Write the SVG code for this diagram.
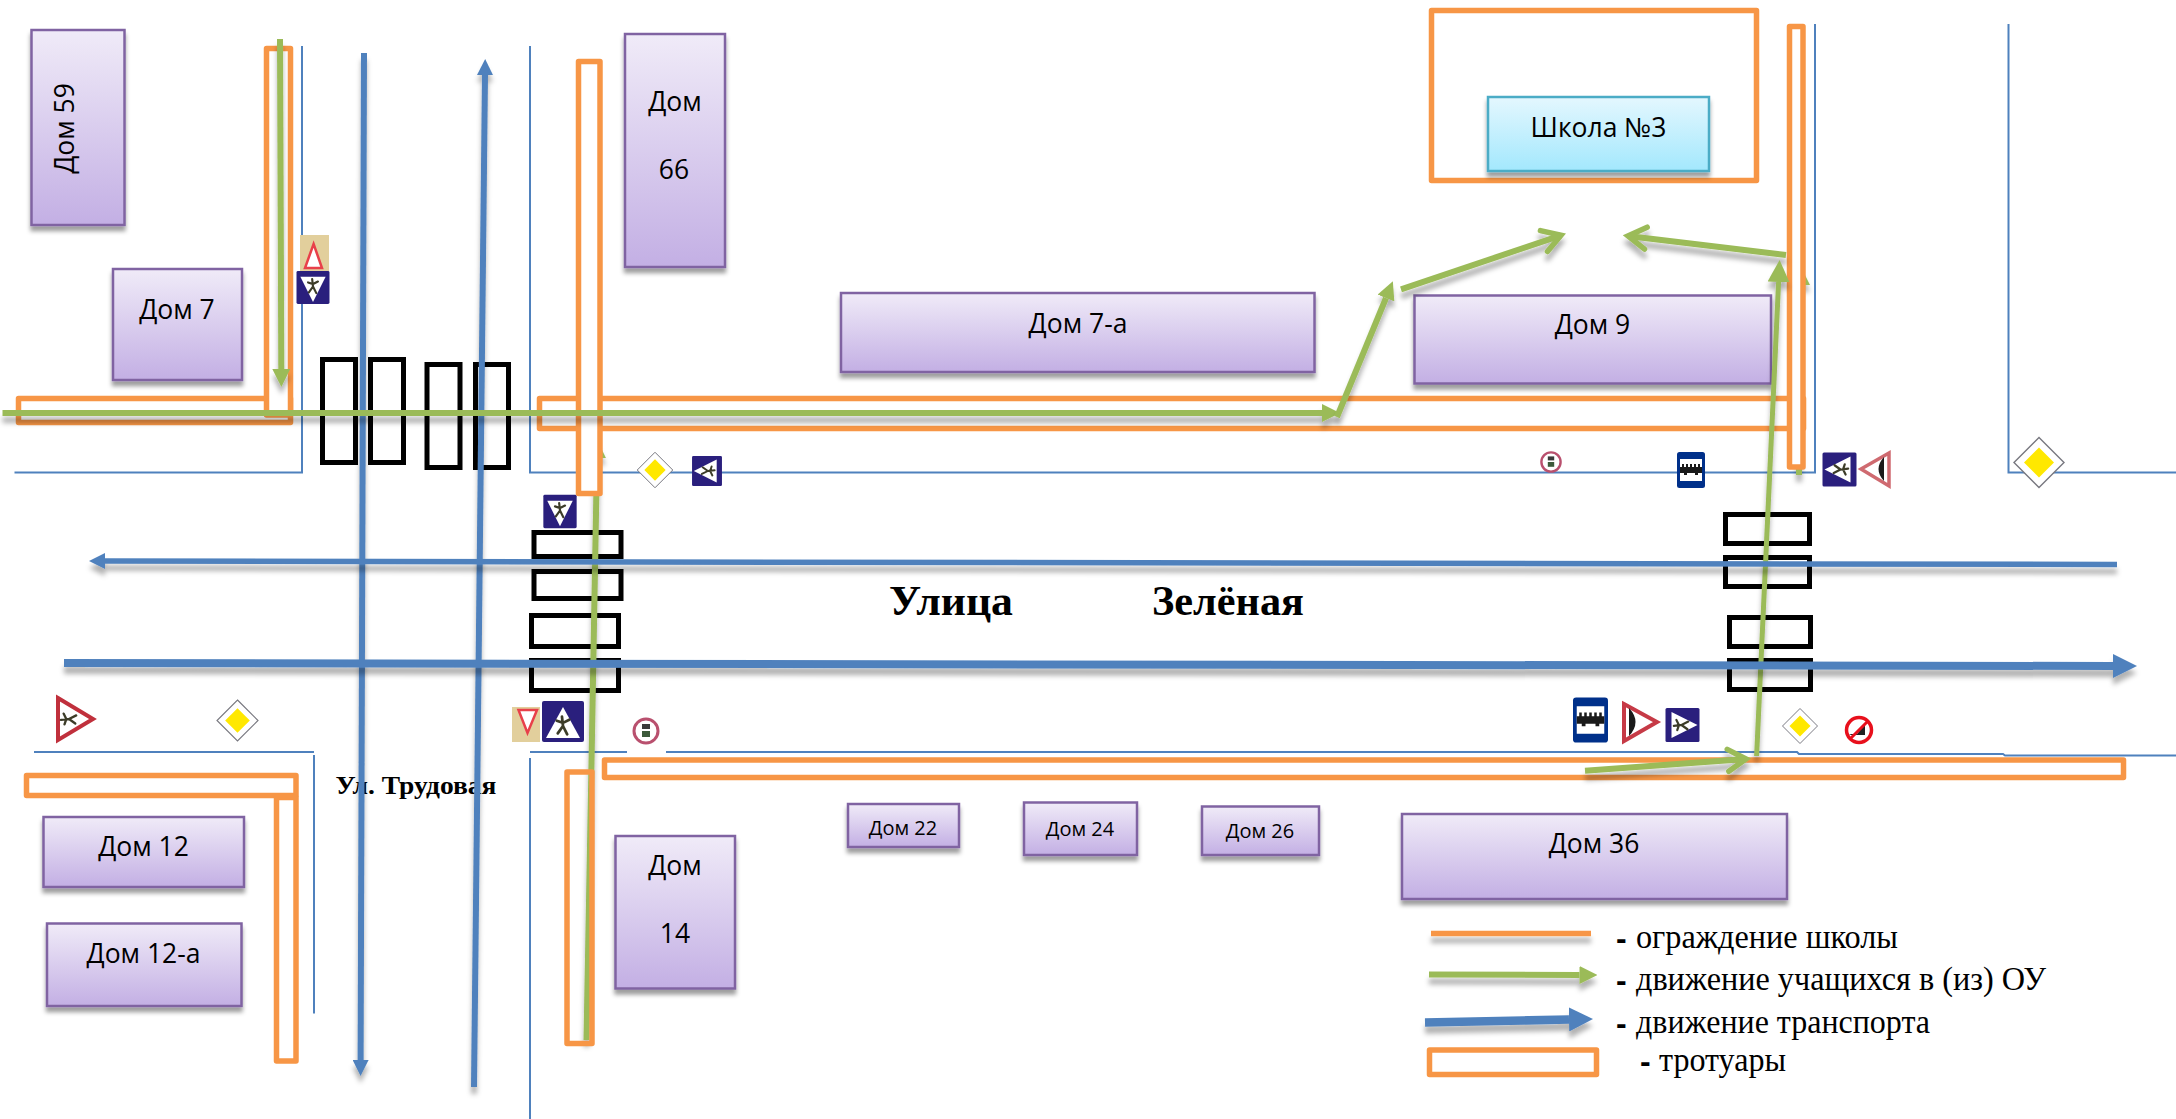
<svg xmlns="http://www.w3.org/2000/svg" xmlns:xlink="http://www.w3.org/1999/xlink" width="2176" height="1119" viewBox="0 0 2176 1119">
<style>
.thin{fill:none;stroke:#4f81bd;stroke-width:2}
.fence{fill:none;stroke:#f79646;stroke-width:5.5;stroke-linejoin:round}
.fw{fill:#fff;stroke:#f79646;stroke-width:5.5;stroke-linejoin:round}
.cw{fill:none;stroke:#000;stroke-width:5}
.bl{fill:none;stroke:#4f81bd;stroke-width:6;filter:url(#ls)}
.gr{fill:none;stroke:#9bbb59;stroke-width:6;filter:url(#ls)}
.bd{fill:url(#pg);stroke:#8064a2;stroke-width:2.5;filter:url(#bs)}
.lb{font-family:"Open Sans","Noto Sans",sans-serif;font-size:26.5px;fill:#000;text-anchor:middle}
.sm{font-size:20px}
.se{font-family:"Liberation Serif",serif;fill:#000}
.lg{font-size:33px}
.b{font-weight:bold}
.ttl{font-size:43px;font-weight:bold}
.ds{font-family:"Liberation Sans",sans-serif;font-weight:bold;font-size:32px;fill:#000}
</style>
<defs>
<linearGradient id="pg" x1="0" y1="0" x2="0" y2="1"><stop offset="0" stop-color="#f0ebf8"/><stop offset="1" stop-color="#c3afe4"/></linearGradient>
<linearGradient id="cg" x1="0" y1="0" x2="0" y2="1"><stop offset="0" stop-color="#e4f7fe"/><stop offset="1" stop-color="#a3e8fd"/></linearGradient>
<filter id="ls" filterUnits="userSpaceOnUse" x="0" y="0" width="2176" height="1119"><feDropShadow dx="0" dy="7" stdDeviation="2.5" flood-color="#000" flood-opacity=".3"/></filter>
<filter id="bs" filterUnits="userSpaceOnUse" x="0" y="0" width="2176" height="1119"><feDropShadow dx="0" dy="5" stdDeviation="2" flood-color="#000" flood-opacity=".38"/></filter>
<marker id="mb" markerUnits="userSpaceOnUse" markerWidth="16" markerHeight="16" refX="0" refY="8" orient="auto"><path d="M0 0L16 8L0 16Z" fill="#4f81bd"/></marker>
<marker id="mB" markerUnits="userSpaceOnUse" markerWidth="24" markerHeight="24" refX="0" refY="12" orient="auto"><path d="M0 0L24 12L0 24Z" fill="#4f81bd"/></marker>
<marker id="mg" markerUnits="userSpaceOnUse" markerWidth="18" markerHeight="18" refX="0" refY="9" orient="auto"><path d="M0 0L18 9L0 18Z" fill="#9bbb59"/></marker>
<marker id="mG" markerUnits="userSpaceOnUse" markerWidth="22" markerHeight="22" refX="0" refY="11" orient="auto"><path d="M0 0L22 11L0 22Z" fill="#9bbb59"/></marker>
<marker id="mo" markerUnits="userSpaceOnUse" markerWidth="32" markerHeight="32" refX="24" refY="16" orient="auto"><path d="M6 5L24 16L6 27" fill="none" stroke="#9bbb59" stroke-width="5.5" stroke-linecap="round"/></marker>
<path id="kid" d="M-1-9L0 0L-5 7M0 0L4 8M-6-5L0-3L6-6" fill="none" stroke="#3c3c28" stroke-width="2.6" stroke-linecap="round"/>
<g id="sb"><rect x="-17" y="-17" width="34" height="34" rx="1.5" fill="#2a1f7d"/><path d="M-13-11H13L0 15Z" fill="#fff"/><use xlink:href="#kid" href="#kid" transform="translate(0 -1) scale(.85)"/></g>
<g id="dm"><path d="M0-25L25 0L0 25L-25 0Z" fill="#fff" stroke="#77777f" stroke-width="1.4"/><path d="M0-15L15 0L0 15L-15 0Z" fill="#ffe800"/></g>
<g id="cs"><circle r="12" fill="#fff" stroke="#b9506e" stroke-width="3"/><rect x="-4" y="-7" width="8" height="5" fill="#3a3a3a"/><rect x="-4" y="0" width="8" height="6" fill="#3c5a3a"/></g>
<g id="bus"><rect x="-14" y="-18" width="28" height="36" rx="2.5" fill="#00308a"/><rect x="-11" y="-11" width="22" height="22" fill="#fff"/><path d="M-11-3H11V3H7V5H4V3H-4V5H-7V3H-11Z M-9-6H-7V-3H-9Z M-5-6H-3V-3H-5Z M-1-6H1V-3H-1Z M3-6H5V-3H3Z M7-6H9V-3H7Z" fill="#1a1a1a"/></g>
</defs>

<g id="road-edges">
<path class="thin" d="M14.500 472.500H302V46"/>
<path class="thin" d="M530 46V472.500H1815V24"/>
<path class="thin" d="M2008.500 24V472.500H2176"/>
<path class="thin" d="M34 752H314M314 755V1013.500"/>
<path class="thin" d="M530 752H1797L1799 754H2003L2005 755.500H2176M530 758V1119"/>
</g>

<g id="signs">
<g id="sign-yield-top"><rect x="300" y="235" width="29" height="36" fill="#e2cf9c"/><path d="M313.600 244L322 268H305Z" fill="#fff" stroke="#e8404a" stroke-width="2.500"/></g>
<use id="sign-kids-top" xlink:href="#sb" href="#sb" transform="translate(313 287.500) scale(.97)"/>
<use id="sign-main-1" xlink:href="#dm" href="#dm" transform="translate(655 470) scale(.71)"/>
<use id="sign-kids-2" xlink:href="#sb" href="#sb" transform="translate(707 471) rotate(90) scale(.88)"/>
<use id="sign-kids-3" xlink:href="#sb" href="#sb" transform="translate(560 511.500) scale(.98)"/>
<g id="sign-yield-low"><rect x="512" y="707" width="28" height="35" fill="#e2cf9c"/><path d="M518.500 710H537L527.500 733Z" fill="#fff" stroke="#e8404a" stroke-width="2.500"/></g>
<g id="sign-crossing"><rect x="542" y="701" width="42" height="41" rx="2" fill="#2a1f7d"/><path d="M563 707L580 738H546Z" fill="#fff"/><use xlink:href="#kid" href="#kid" transform="translate(563 726) scale(1.05)"/></g>
<g id="sign-no-1"><rect x="627" y="702" width="39" height="57" fill="#fff"/><use xlink:href="#cs" href="#cs" transform="translate(646 731)"/></g>
<g id="sign-warn-left"><path d="M58 698L93 719L58 740Z" fill="#fff" stroke="#c0303c" stroke-width="4"/><use xlink:href="#kid" href="#kid" transform="translate(69 719) rotate(-90) scale(.9)"/></g>
<use id="sign-main-2" xlink:href="#dm" href="#dm" transform="translate(237.500 720.500) scale(.82)"/>
<use id="sign-no-2" xlink:href="#cs" href="#cs" transform="translate(1551 462) scale(.8)"/>
<use id="sign-bus-1" xlink:href="#bus" href="#bus" transform="translate(1691 470)"/>
<use id="sign-kids-4" xlink:href="#sb" href="#sb" transform="translate(1839.500 469.500) rotate(90)"/>
<g id="sign-warn-r1"><path d="M1861 469L1889 453V486Z" fill="#fff" stroke="#cf6a70" stroke-width="3.500"/><path d="M1884 457Q1873 469 1884 481Z" fill="#1a1a1a"/></g>
<use id="sign-main-3" xlink:href="#dm" href="#dm" transform="translate(2039 462.500)"/>
<use id="sign-bus-2" xlink:href="#bus" href="#bus" transform="translate(1590.500 720) scale(1.25)"/>
<g id="sign-warn-r2"><path d="M1624 704L1657 722L1624 741Z" fill="#fff" stroke="#c63a46" stroke-width="4"/><path d="M1629 708Q1642 722 1629 736Z" fill="#1a1a1a"/></g>
<use id="sign-kids-5" xlink:href="#sb" href="#sb" transform="translate(1682.500 725) rotate(-90)"/>
<use id="sign-main-4" xlink:href="#dm" href="#dm" transform="translate(1800 726) scale(.7)"/>
<g id="sign-no-3"><circle cx="1859" cy="730" r="12.500" fill="#fff" stroke="#e8101c" stroke-width="3.500"/><path d="M1849 734H1857L1865 724V735H1851Z" fill="#222"/><path d="M1850 739L1868 721" stroke="#e8101c" stroke-width="3"/></g>
</g>

<g id="crosswalks">
<rect class="cw" x="322.500" y="359.500" width="33" height="103"/>
<rect class="cw" x="370.500" y="359.500" width="33" height="103"/>
<rect class="cw" x="427" y="364.500" width="33" height="103"/>
<rect class="cw" x="475.500" y="364.500" width="33" height="103"/>
<rect class="cw" x="534" y="532.500" width="87" height="24"/>
<rect class="cw" x="534" y="571.500" width="87" height="27"/>
<rect class="cw" x="531.500" y="615.500" width="87" height="31"/>
<rect class="cw" x="531.500" y="660.500" width="87" height="30"/>
<rect class="cw" x="1725.500" y="514.500" width="84" height="29"/>
<rect class="cw" x="1725.500" y="557.500" width="84" height="29"/>
<rect class="cw" x="1729.500" y="617.500" width="81" height="29"/>
<rect class="cw" x="1729.500" y="660.500" width="81" height="29"/>
</g>

<text id="label-trudovaya" class="se b" x="335.500" y="793.500" font-size="26" textLength="161" lengthAdjust="spacingAndGlyphs">Ул. Трудовая</text>

<g id="connectors-vertical">
<line class="bl" x1="364" y1="53" x2="360.600" y2="1060" marker-end="url(#mb)"/>
<line class="bl" x1="474" y1="1087" x2="485" y2="75" marker-end="url(#mb)"/>
<line class="gr" x1="586.500" y1="1040" x2="597" y2="458" marker-end="url(#mg)"/>
<line class="gr" x1="1799" y1="475" x2="1799" y2="285" marker-end="url(#mG)"/>
</g>

<g id="fences-low">
<rect class="fw" x="26.500" y="775.500" width="269.500" height="20"/>
<rect class="fence" x="276.500" y="797.500" width="19.500" height="263.500"/>
<rect class="fence" x="567" y="772" width="25" height="271.500"/>
<rect class="fence" x="604.500" y="760" width="1519" height="17.500"/>
<rect class="fence" x="18.500" y="398.500" width="272" height="24"/>
<rect class="fence" x="539.500" y="398.500" width="1264" height="30"/>
<rect class="fence" x="1431.500" y="10.500" width="325" height="170"/>
</g>

<g id="dom-59"><rect class="bd" x="31.500" y="30" width="93" height="195"/><text class="lb" transform="translate(74 128.500) rotate(-90)">Дом 59</text></g>
<g id="dom-7"><rect class="bd" x="113" y="269" width="129" height="111"/><text class="lb" x="177" y="319">Дом 7</text></g>
<g id="dom-66"><rect class="bd" x="625" y="34" width="100" height="233"/><text class="lb" x="675" y="110.500">Дом</text><text class="lb" x="674" y="178.500">66</text></g>
<g id="dom-7a"><rect class="bd" x="841" y="293" width="473.500" height="79"/><text class="lb" x="1078" y="333">Дом 7-а</text></g>
<g id="dom-9"><rect class="bd" x="1414.500" y="295.500" width="356.500" height="88"/><text class="lb" x="1592.500" y="334">Дом 9</text></g>
<g id="school"><rect class="bd" x="1488" y="97" width="221" height="74" style="fill:url(#cg);stroke:#4bacc6"/><text class="lb" x="1598.500" y="136.500">Школа №3</text></g>
<g id="dom-12"><rect class="bd" x="43.500" y="817" width="200.500" height="70"/><text class="lb" x="143.500" y="856">Дом 12</text></g>
<g id="dom-12a"><rect class="bd" x="47" y="923.500" width="194.500" height="82.500"/><text class="lb" x="143.500" y="963">Дом 12-а</text></g>
<g id="dom-14"><rect class="bd" x="615.500" y="836" width="119.500" height="152.500"/><text class="lb" x="675" y="874.500">Дом</text><text class="lb" x="675" y="942.500">14</text></g>
<g id="dom-22"><rect class="bd" x="848" y="804" width="111" height="43"/><text class="lb sm" x="903" y="835">Дом 22</text></g>
<g id="dom-24"><rect class="bd" x="1024" y="802.500" width="113" height="52.500"/><text class="lb sm" x="1080" y="836">Дом 24</text></g>
<g id="dom-26"><rect class="bd" x="1202" y="806.500" width="117" height="48.500"/><text class="lb sm" x="1260" y="838">Дом 26</text></g>
<g id="dom-36"><rect class="bd" x="1402" y="814" width="385" height="85"/><text class="lb" x="1594" y="853">Дом 36</text></g>

<g id="fences-top">
<rect class="fw" x="266.500" y="48.500" width="24" height="366.500"/>
<rect class="fw" x="578.500" y="61.500" width="21.500" height="432"/>
<rect class="fw" x="1789.500" y="26.500" width="13.500" height="440.500"/>
</g>

<g id="connectors">
<line class="gr" x1="280" y1="39" x2="281.300" y2="369" marker-end="url(#mg)"/>
<line class="gr" x1="2.500" y1="413" x2="1322" y2="413" marker-end="url(#mg)"/>
<line class="gr" x1="1337" y1="417" x2="1386" y2="298" marker-end="url(#mg)"/>
<line class="gr" x1="1401" y1="289.300" x2="1561" y2="235.300" marker-end="url(#mo)"/>
<line class="gr" x1="1786" y1="255" x2="1628" y2="236" marker-end="url(#mo)"/>
<line class="gr" x1="1756.600" y1="756" x2="1778.600" y2="282" marker-end="url(#mG)" style="stroke-width:5"/>
<line class="gr" x1="1585" y1="770.700" x2="1746" y2="759" marker-end="url(#mo)"/>
<line class="bl" x1="2117" y1="564.500" x2="105" y2="561" marker-end="url(#mb)" style="stroke-width:5.500"/>
<line class="bl" x1="64" y1="663" x2="2113" y2="666" marker-end="url(#mB)" style="stroke-width:8"/>
</g>

<text id="street-1" class="se ttl" x="889" y="615" textLength="124" lengthAdjust="spacingAndGlyphs">Улица</text>
<text id="street-2" class="se ttl" x="1152" y="615" textLength="152" lengthAdjust="spacingAndGlyphs">Зелёная</text>

<g id="legend">
<line x1="1431" y1="933.500" x2="1591" y2="933.500" style="stroke:#f79646;stroke-width:5.500;filter:url(#ls)"/>
<line class="gr" x1="1429" y1="974.500" x2="1579.500" y2="975" marker-end="url(#mg)"/>
<line class="bl" x1="1425" y1="1022.500" x2="1569" y2="1019.500" marker-end="url(#mB)" style="stroke-width:8.500"/>
<rect class="fence" x="1429.500" y="1050" width="167" height="24.500"/>
<text class="ds" x="1616" y="948.500">-</text>
<text class="se lg" x="1636" y="947.500" textLength="262" lengthAdjust="spacingAndGlyphs">ограждение школы</text>
<text class="ds" x="1616" y="991">-</text>
<text class="se lg" x="1636" y="990" textLength="410" lengthAdjust="spacingAndGlyphs">движение учащихся в (из) ОУ</text>
<text class="ds" x="1616" y="1034">-</text>
<text class="se lg" x="1636" y="1033" textLength="294" lengthAdjust="spacingAndGlyphs">движение транспорта</text>
<text class="ds" x="1640" y="1072">-</text>
<text class="se lg" x="1659" y="1070.500" textLength="127" lengthAdjust="spacingAndGlyphs">тротуары</text>
</g>
</svg>
